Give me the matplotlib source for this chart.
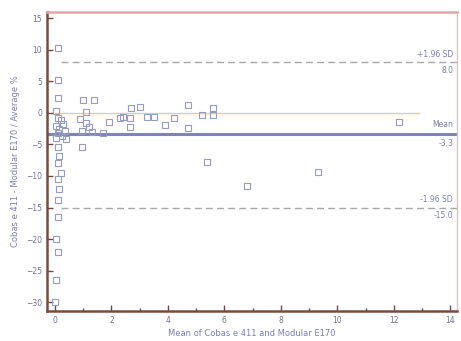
import numpy as np
import matplotlib.pyplot as plt

# Bland-Altman: Cobas e 411 vs Modular E170
mean_x = [0.1, 0.1, 0.1, 0.05, 0.1, 0.2, 0.3, 0.05, 0.15, 0.35, 0.1, 0.25, 0.05, 0.4,
          0.1, 0.15, 0.1, 0.2, 0.1, 0.15, 0.1, 0.1, 0.05, 0.1, 0.05, 0.0,
          1.0, 1.4, 1.1, 0.9, 1.1, 1.2, 0.95, 1.3, 0.95, 1.7, 1.9,
          2.3, 2.4, 2.65, 2.7, 3.0, 2.65, 3.25, 3.5, 3.9, 4.2, 4.7, 4.7,
          5.2, 5.6, 5.6, 5.4, 6.8, 9.3, 12.2]
diff_pct = [10.3, 5.2, 2.3, 0.3, -0.8, -1.2, -1.8, -2.0, -2.5, -2.8, -3.2, -3.6, -4.0, -4.2,
            -5.4, -6.8, -8.0, -9.5, -10.5, -12.0, -13.8, -16.5, -20.0, -22.0, -26.5, -30.0,
            2.1, 2.1, 0.2, -1.0, -1.6, -2.3, -2.8, -3.0, -5.4, -3.2, -1.4,
            -0.8, -0.6, -0.8, 0.8, 1.0, -2.2, -0.6, -0.6, -1.9, -0.8, 1.3, -2.4,
            -0.3, 0.8, -0.3, -7.8, -11.6, -9.4, -1.4]

mean_diff = -3.3
upper_loa = 8.0
lower_loa = -15.0

txt = '#7a7fa8'

fig = plt.figure(figsize=(4.61, 3.41), dpi=100)
ax = fig.add_axes([0.102, 0.088, 0.89, 0.877])

ax.plot([0, 12.9], [0, 0], color='#f0c8a0', lw=1.0, zorder=1)
ax.axhline(mean_diff, color='#7e84b6', lw=2.2, zorder=2)
ax.plot([0.2, 14.25], [upper_loa, upper_loa], color='#a8a8a8', lw=1.0, ls=(0, (5, 3)), zorder=1)
ax.plot([0.2, 14.25], [lower_loa, lower_loa], color='#a8a8a8', lw=1.0, ls=(0, (5, 3)), zorder=1)

ax.plot(mean_x, diff_pct, ls='none', marker='s', ms=4, mfc='none',
        mec='#959bbd', mew=0.8, zorder=3)

ax.text(14.1, upper_loa + 0.6, '+1.96 SD', ha='right', va='bottom', fontsize=5.5, color=txt)
ax.text(14.1, upper_loa - 0.6, '%.1f' % upper_loa, ha='right', va='top', fontsize=5.5, color=txt)
ax.text(14.1, mean_diff + 0.8, 'Mean', ha='right', va='bottom', fontsize=5.5, color=txt)
ax.text(14.1, mean_diff - 0.8, '%.1f' % mean_diff, ha='right', va='top', fontsize=5.5, color=txt)
ax.text(14.1, lower_loa + 0.6, '-1.96 SD', ha='right', va='bottom', fontsize=5.5, color=txt)
ax.text(14.1, lower_loa - 0.6, '%.1f' % lower_loa, ha='right', va='top', fontsize=5.5, color=txt)

ax.set_xlim(-0.28, 14.25)
ax.set_ylim(-31.4, 16)
ax.set_xticks(np.arange(0, 15, 2))
ax.set_xticks(np.arange(1, 14, 2), minor=True)
ax.set_yticks(np.arange(-30, 16, 5))
ax.tick_params(direction='in', length=4, width=1, colors='#6a4a40', labelcolor='#6f7390',
               labelsize=5.5)
ax.tick_params(which='minor', direction='in', length=2, width=1, colors='#6a4a40')

ax.set_xlabel('Mean of Cobas e 411 and Modular E170', fontsize=6, color=txt, labelpad=3)
ax.set_ylabel('Cobas e 411 - Modular E170 / Average %', fontsize=6, color=txt, labelpad=4)

ax.spines['left'].set_color('#7a4a3c')
ax.spines['left'].set_linewidth(1.8)
ax.spines['bottom'].set_color('#7a4a3c')
ax.spines['bottom'].set_linewidth(1.8)
ax.spines['top'].set_color('#dca8a8')
ax.spines['top'].set_linewidth(1.8)
ax.spines['right'].set_color('#d8c4c4')
ax.spines['right'].set_linewidth(1.0)

plt.savefig('out.png', dpi=100)
